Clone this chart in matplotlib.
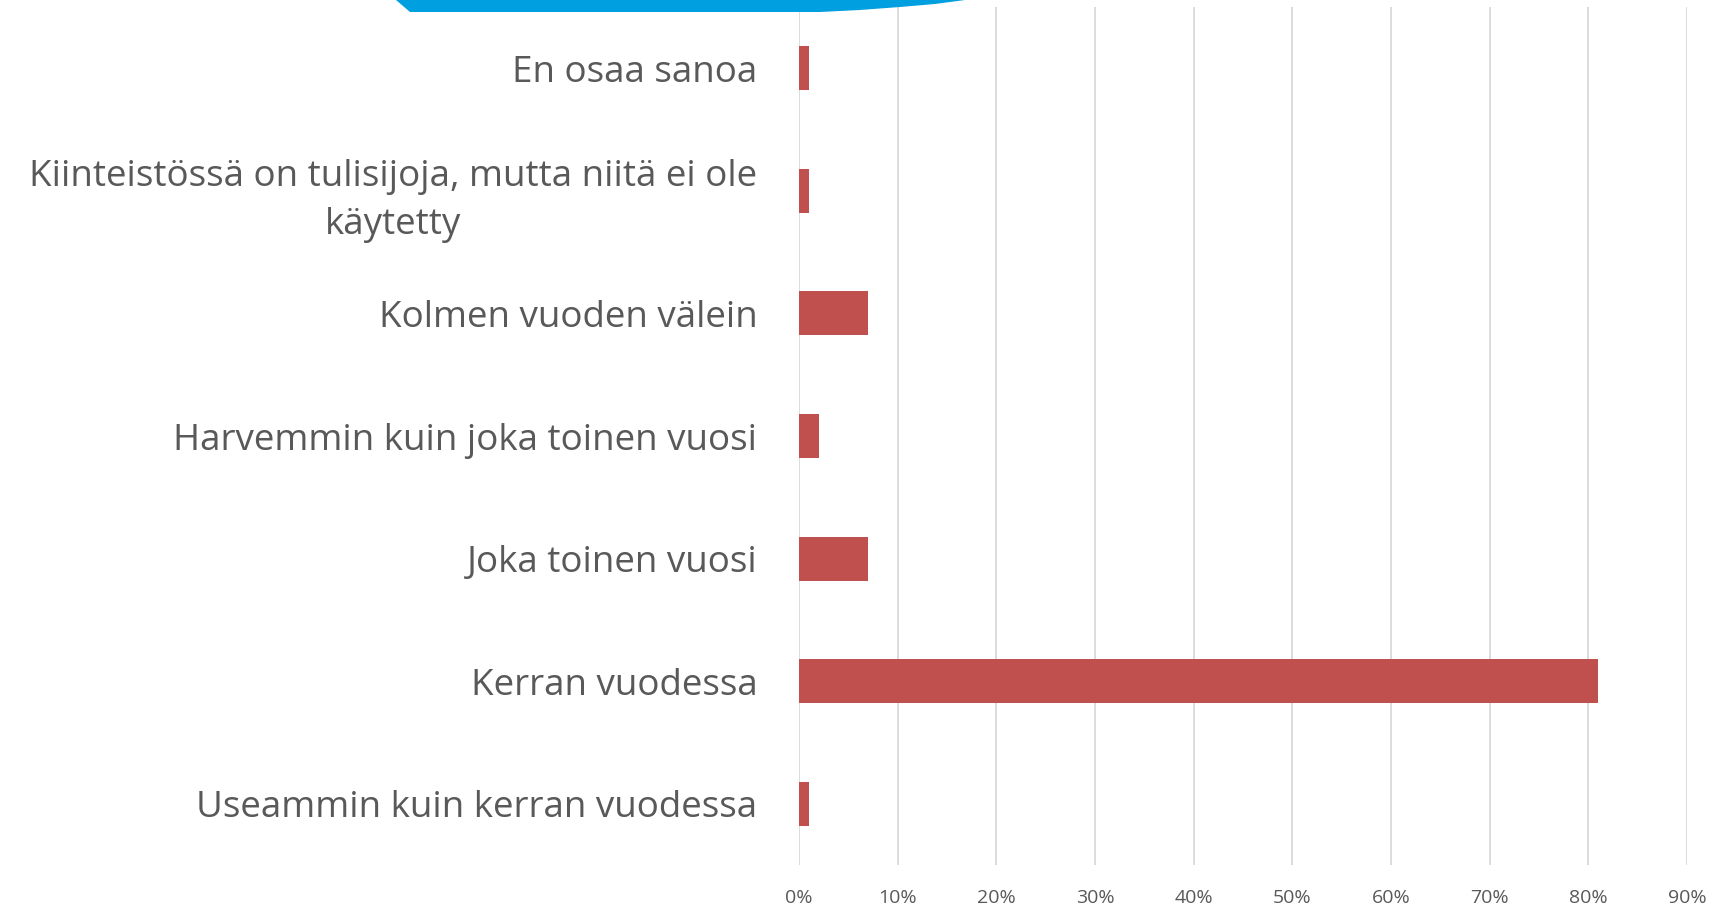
import matplotlib
matplotlib.use("Agg")
import matplotlib.pyplot as plt
from matplotlib.patches import Polygon
from matplotlib.ticker import PercentFormatter

categories = [
    "En osaa sanoa",
    "Kiinteistössä on tulisijoja, mutta niitä ei ole\nkäytetty",
    "Kolmen vuoden välein",
    "Harvemmin kuin joka toinen vuosi",
    "Joka toinen vuosi",
    "Kerran vuodessa",
    "Useammin kuin kerran vuodessa",
]
values = [1, 1, 7, 2, 7, 81, 1]
xticks = [0, 10, 20, 30, 40, 50, 60, 70, 80, 90]

plt.rcParams['font.family'] = ['Open Sans', 'DejaVu Sans']
W, H = 1719, 908
fig = plt.figure(figsize=(W / 100, H / 100), dpi=100)
ax = fig.add_axes([799 / W, 1 - 865 / H, (1687 - 799) / W, (865 - 7) / H])

ypos = list(range(len(categories)))
ax.barh(ypos, values, height=0.36, color="#C0504D", zorder=3)
ax.set_ylim(len(categories) - 0.5, -0.5)
ax.set_xlim(0, 90)
ax.set_xticks(xticks)
ax.xaxis.set_major_formatter(PercentFormatter(decimals=0))
ax.set_yticks(ypos)
ax.set_yticklabels(categories, fontsize=26.5, color="#595959")
for lab in ax.get_yticklabels():
    lab.set_multialignment("center")
    lab.set_linespacing(1.42)
ax.tick_params(axis="y", length=0, pad=30)
ax.tick_params(axis="x", length=0, pad=17, labelsize=14, labelcolor="#595959")
ax.grid(axis="x", color="#D9D9D9", linewidth=1.3, zorder=0)
for s in ax.spines.values():
    s.set_visible(False)

# blue decorative shape at top
pts = [(396, 0), (410, 12), (820, 12), (860, 10), (900, 7), (935, 4), (965, 0)]
poly = Polygon([(x / W, 1 - y / H) for x, y in pts], closed=True,
               transform=fig.transFigure, facecolor="#009FDF", edgecolor="none")
fig.patches.append(poly)

fig.savefig("out.png", dpi=100)
